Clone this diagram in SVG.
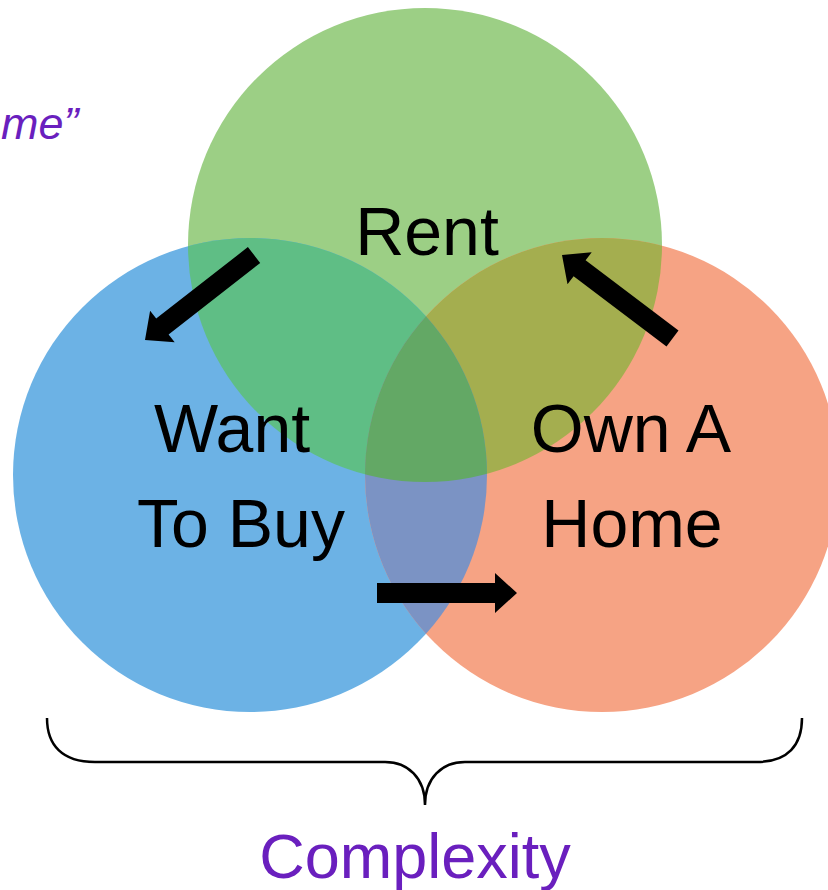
<svg xmlns="http://www.w3.org/2000/svg" width="828" height="890" viewBox="0 0 828 890">
<style>
.lbl{font-family:"Liberation Sans",Arial,sans-serif;font-size:68px;fill:#000;text-anchor:middle}
.purple{font-family:"Liberation Sans",Arial,sans-serif;fill:#6a1fbe}
.arrow{fill:#000}
</style>
<defs>
<clipPath id="cG"><circle cx="425" cy="245" r="237"/></clipPath>
<clipPath id="cB"><circle cx="250" cy="475" r="237"/></clipPath>
</defs>
<rect width="828" height="890" fill="#fff"/>
<text class="purple" x="1" y="139" font-size="45" font-style="italic">me”</text>
<g id="circles">
<circle id="circle-rent" cx="425" cy="245" r="237" fill="#9ccf85"/>
<circle id="circle-buy" cx="250" cy="475" r="237" fill="#6cb2e5"/>
<circle id="circle-own" cx="602" cy="475" r="237" fill="#f6a384"/>
<circle cx="250" cy="475" r="237" fill="#5fbe85" clip-path="url(#cG)"/>
<circle cx="602" cy="475" r="237" fill="#a4ae4f" clip-path="url(#cG)"/>
<circle cx="602" cy="475" r="237" fill="#7b93c4" clip-path="url(#cB)"/>
<g clip-path="url(#cG)"><circle cx="602" cy="475" r="237" fill="#63a865" clip-path="url(#cB)"/></g>
</g>
<g id="node-rent"><text class="lbl" x="427" y="255" font-size="67">Rent</text></g>
<g id="node-buy"><text class="lbl" x="232" y="452">Want</text><text class="lbl" x="241" y="547">To Buy</text></g>
<g id="node-own"><text class="lbl" x="631" y="452">Own A</text><text class="lbl" x="632" y="547">Home</text></g>
<g id="connectors">
<polygon class="arrow" points="260.2,262.9 168.6,334.4 174.7,342.3 145,340 150.1,310.7 156.2,318.6 247.9,247.1"/>
<polygon class="arrow" points="666.5,346.5 573.6,276.3 567.5,284.3 562,255 591.7,252.3 585.6,260.3 678.5,330.5"/>
<polygon class="arrow" points="377,583 495,583 495,573 517,593 495,613 495,603 377,603"/>
</g>
<g id="brace">
<path d="M47,718 C47,745 62,762 95,762 L385,762 C408,762 425,778 425,805 C425,778 442,762 465,762 L757,762 C788,762 802,745 802,718" fill="none" stroke="#000" stroke-width="2.5"/>
<text class="purple" x="415" y="878" font-size="63" text-anchor="middle">Complexity</text>
</g>
</svg>
